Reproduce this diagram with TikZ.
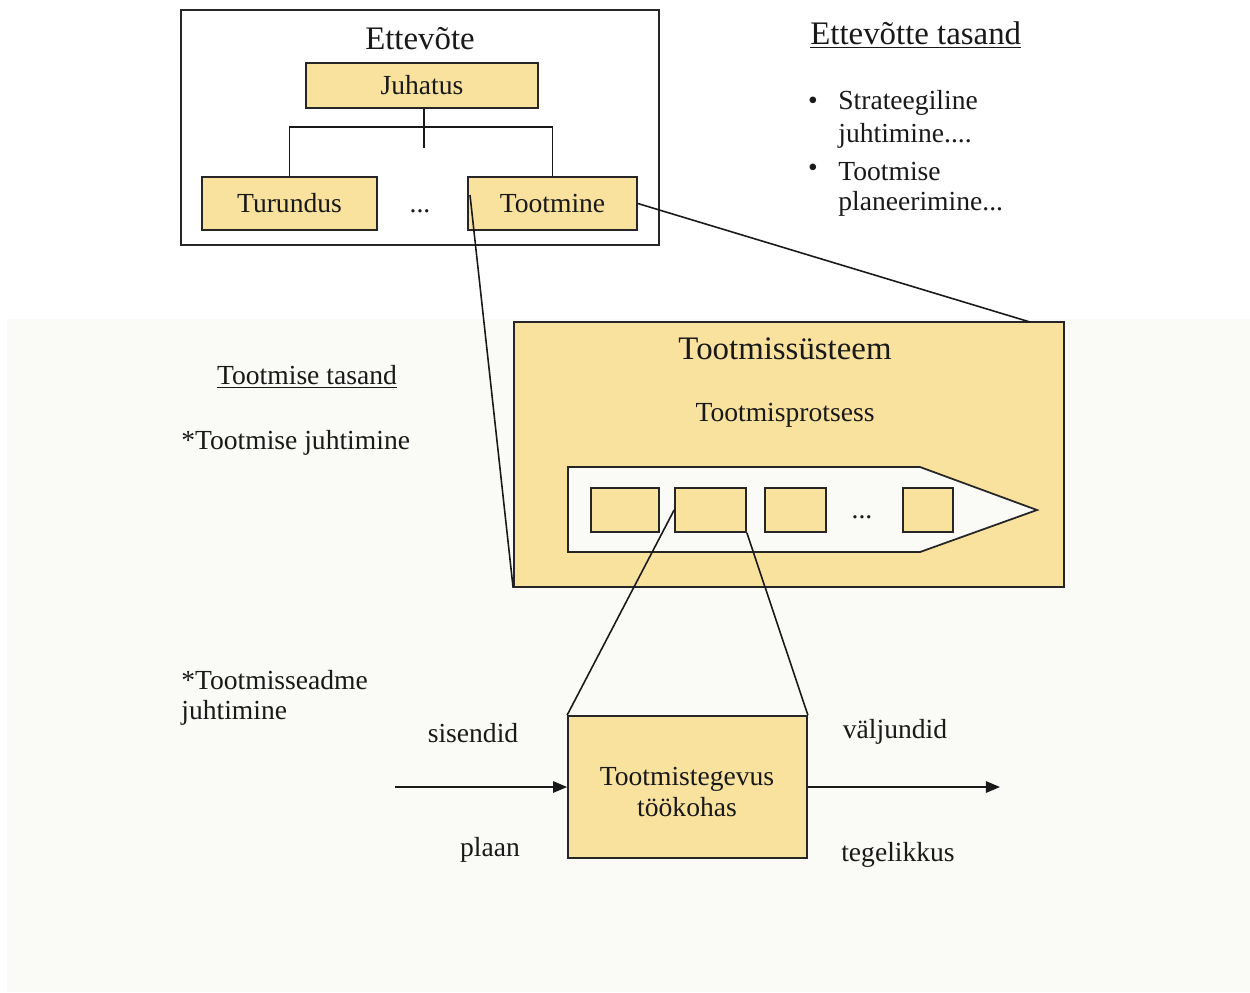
\documentclass[tikz,border=0pt]{standalone}
\usepackage{fontspec}
\setmainfont{Liberation Serif}
\usetikzlibrary{fit,arrows.meta}
\definecolor{ylw}{HTML}{F8E29E}
\definecolor{bgc}{HTML}{FAFAF6}
\tikzset{
  box/.style={draw=black!85, line width=1pt, fill=ylw, inner sep=0pt},
  txt/.style={font=\fontsize{15.7}{18}\selectfont, inner sep=0pt, text=black!90},
  big/.style={font=\fontsize{18.7}{22}\selectfont, inner sep=0pt, text=black!90},
  conn/.style={line width=0.9pt, draw=black!90},
  arr/.style={conn, -{Triangle[length=8pt, width=6.5pt]}},
}
\begin{document}
\begin{tikzpicture}[x=0.02cm,y=-0.02cm]
\useasboundingbox (0,0) rectangle (1250,992);
\fill[bgc] (7,319) rectangle (1250,992);

% ---- company level ----
\node[fit={(181,10)(659,245)}, draw=black!85, line width=1pt, inner sep=0pt] (ent) {};
\node[big] (enttitle) at (420,39) {Ettevõte};
\node[box, fit={(306,63)(538,108)}] (juh) {};
\node[txt] (juhT) at (juh.center) {Juhatus};
\node[box, fit={(202,177)(377,230)}] (tur) {};
\node[txt] (turT) at (tur.center) {Turundus};
\node[box, fit={(468,177)(637,230)}] (toot) {};
\node[txt] (tootT) at (toot.center) {Tootmine};
\node[txt] (dots1) at (420,211) {...};
\coordinate (stub) at (424,148);
\draw[conn] (juh.south -| stub) -- (stub);
\draw[conn] (tur.north) -- ++(0,-49) -| (toot.north);

\node[big, anchor=west] (enttas) at (810,35) {\underline{Ettevõtte tasand}};
\node[txt] (b1) at (813,103) {\textbullet};
\node[txt] (b2) at (813,170) {\textbullet};
\node[txt, anchor=west] (s1) at (838,103) {Strateegiline};
\node[txt, anchor=west] (s2) at (838,136) {juhtimine....};
\node[txt, anchor=west] (s3) at (838,171) {Tootmise};
\node[txt, anchor=west] (s4) at (838,204) {planeerimine...};

% ---- production level ----
\node[txt] (tottas) at (307,377) {\underline{Tootmise tasand}};
\node[txt, anchor=west] (tj) at (181,443) {*Tootmise juhtimine};
\node[txt, anchor=west] (tsa) at (181,680) {*Tootmisseadme};
\node[txt, anchor=west] (tsb) at (181,713) {juhtimine};

\node[box, fit={(514,322)(1064,587)}] (sys) {};
\node[big] (systitle) at (785,349) {Tootmissüsteem};
\node[txt] (proc) at (785,415) {Tootmisprotsess};
\path[draw=black!85, line width=1pt, fill=bgc] (568,467) -- (920,467) -- (1037,510) -- (920,552) -- (568,552) -- cycle;
\node[box, fit={(591,488)(659,532)}] (pb1) {};
\node[box, fit={(675,488)(746,532)}] (pb2) {};
\node[box, fit={(765,488)(826,532)}] (pb3) {};
\node[txt] (dots2) at (862,517) {...};
\node[box, fit={(903,488)(953,532)}] (pb4) {};

\coordinate (tootA) at (470,195);
\coordinate (sysTR) at (1030,322);
\draw[conn] (tootA) -- (sys.south west);
\draw[conn] (toot.east) -- (sysTR);

% ---- workplace ----
\node[box, fit={(568,716)(807,858)}] (work) {};
\node[txt, align=center] (worktxt) at (687,792) {Tootmistegevus\\[0pt]töökohas};
\draw[conn] (pb2.west) -- (work.north west);
\draw[conn] (pb2.south east) -- (work.north east);

\coordinate (inA) at (395,787);
\coordinate (outB) at (1000,787);
\draw[arr] (inA) -- (work.west |- inA);
\draw[arr] (work.east |- outB) -- (outB);

\node[txt] (sis) at (473,733) {sisendid};
\node[txt] (pla) at (490,850) {plaan};
\node[txt] (val) at (895,732) {väljundid};
\node[txt] (teg) at (898,855) {tegelikkus};
\end{tikzpicture}
\end{document}
